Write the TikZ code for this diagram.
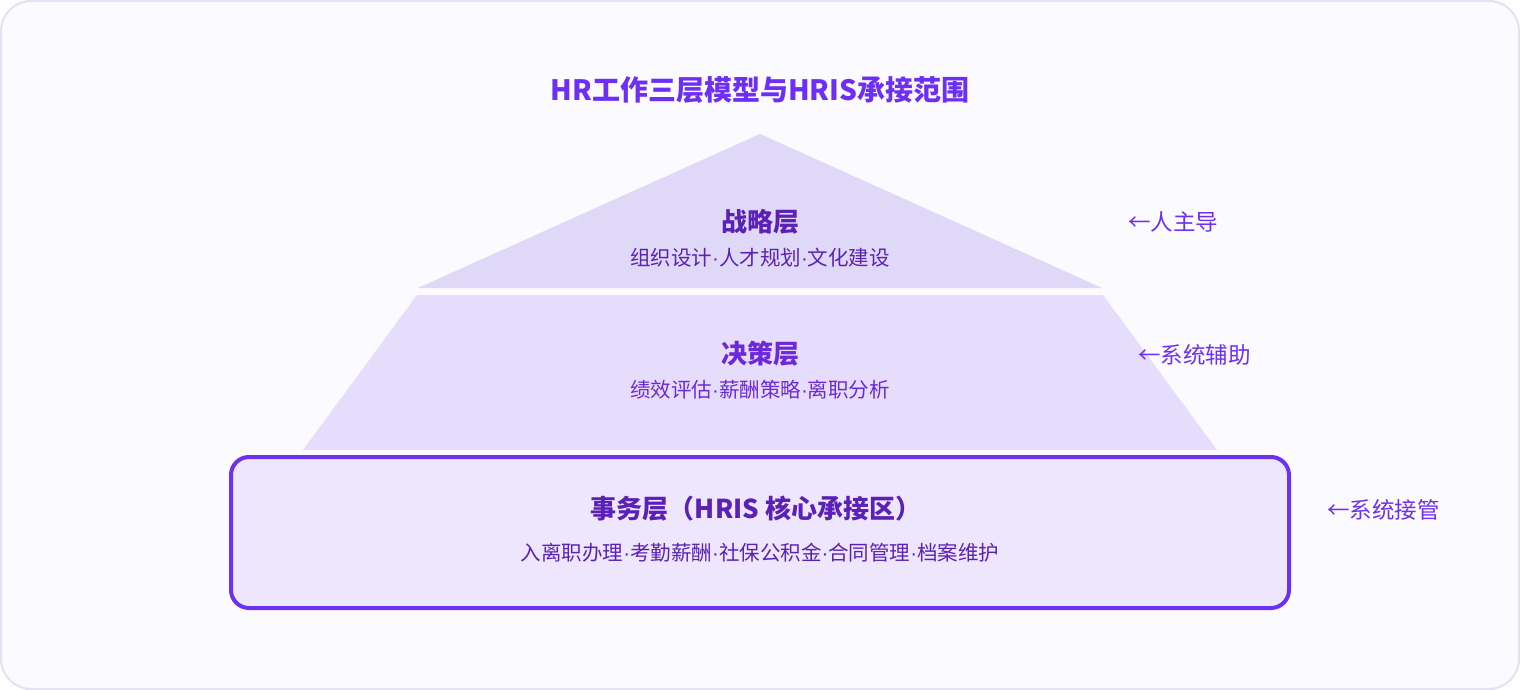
\documentclass[tikz,border=0pt]{standalone}
\usepackage{fontspec}
\setmainfont{Noto Sans CJK SC}
\newfontfamily\latinfont{Liberation Sans}
\newcommand\dotsep{{\latinfont ·}}
\usepackage{xcolor}
\definecolor{framefill}{HTML}{FAFAFF}
\definecolor{framedraw}{HTML}{E3E1F2}
\definecolor{topfill}{HTML}{DFD8F6}
\definecolor{midfill}{HTML}{E6DDFC}
\definecolor{basefill}{HTML}{EDE6FD}
\definecolor{basedraw}{HTML}{6D31F2}
\definecolor{violet}{HTML}{6D2EF5}
\definecolor{deepviolet}{HTML}{5B21B6}
\definecolor{midviolet}{HTML}{6D28D9}

\begin{document}
\begin{tikzpicture}[x=1pt, y=-1pt,
    heading/.style = {font=\fontsize{28}{34}\selectfont\bfseries, text=violet},
    layer/.style = {font=\fontsize{26}{30}\selectfont\bfseries, text=deepviolet},
    items/.style = {font=\fontsize{20.5}{24}\selectfont, text=deepviolet},
    note/.style = {font=\fontsize{22.5}{26}\selectfont, text=violet, anchor=west, inner sep=0pt}]
    \useasboundingbox (0,0) rectangle (1520,690);
    \draw[framedraw, line width=2pt, fill=framefill, rounded corners=30pt] (1,1) rectangle (1519,689);

    \node[heading](title) at (760,90){HR工作三层模型与HRIS承接范围};

    % pyramid
    \fill[topfill] (760,134) -- (1102,288) -- (418,288) -- cycle;
    \fill[midfill] (417,295) -- (1103,295) -- (1217,450) -- (303,450) -- cycle;
    \draw[basedraw, line width=4pt, fill=basefill, rounded corners=18pt] (231,457) rectangle (1289,608);

    \node[layer](top) at (760,222){战略层};
    \node[items](topitems) at (760,258){组织设计\dotsep 人才规划\dotsep 文化建设};
    \node[layer, text=midviolet](mid) at (760,354){决策层};
    \node[items, text=midviolet](miditems) at (760,390){绩效评估\dotsep 薪酬策略\dotsep 离职分析};
    \node[layer](base) at (756,509){事务层（HRIS 核心承接区）};
    \node[items](baseitems) at (760,553){入离职办理\dotsep 考勤薪酬\dotsep 社保公积金\dotsep 合同管理\dotsep 档案维护};

    \node[note](topnote) at (1128,222){←人主导};
    \node[note](midnote) at (1138,355){←系统辅助};
    \node[note](basenote) at (1327,510){←系统接管};
\end{tikzpicture}
\end{document}
